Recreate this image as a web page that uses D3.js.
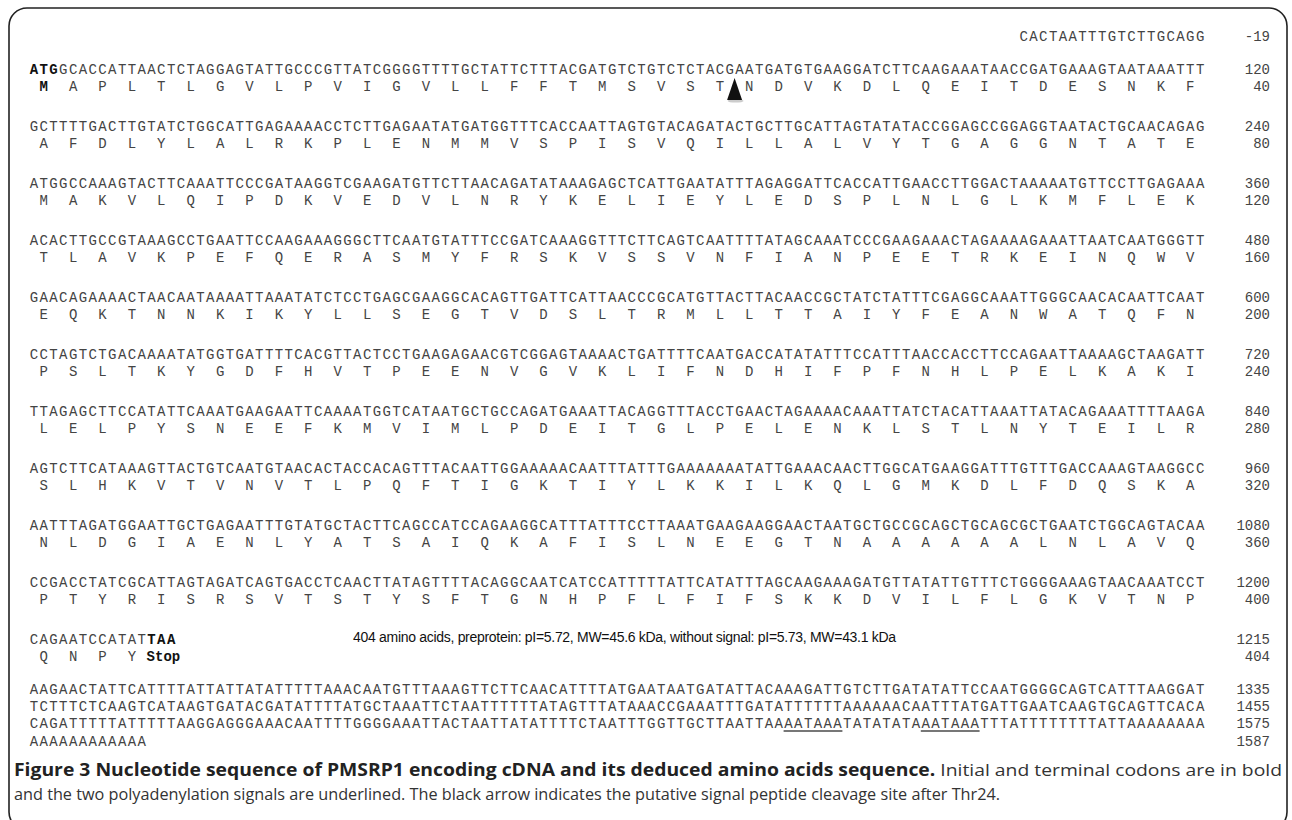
<!DOCTYPE html>
<html>
<head>
<meta charset="utf-8">
<script src="https://cdn.jsdelivr.net/npm/d3@7.9.0/dist/d3.min.js"></script>
<style>
  body { margin: 0; background: #fff; }
  svg { display: block; }
  .nt, .aa, .num { font-family: 'Liberation Mono', 'Courier New', monospace; font-size: 14px; fill: #444; }
  .bold { font-weight: bold; fill: #111; }
  .info { font-family: 'Liberation Sans', Arial, sans-serif; font-size: 14px; fill: #111; letter-spacing: -0.3px; }
  .cap { font-family: 'Open Sans', 'Noto Sans', sans-serif; font-size: 17px; fill: #333; }
</style>
</head>
<body>
<svg id="fig" width="1292" height="820"></svg>
<script>
// sequence data
const header = 'CACTAATTTGTCTTGCAGG';
const headerNum = '-19';

const ntRows = [
  'ATGGCACCATTAACTCTAGGAGTATTGCCCGTTATCGGGGTTTTGCTATTCTTTACGATGTCTGTCTCTACGAATGATGTGAAGGATCTTCAAGAAATAACCGATGAAAGTAATAAATTT',
  'GCTTTTGACTTGTATCTGGCATTGAGAAAACCTCTTGAGAATATGATGGTTTCACCAATTAGTGTACAGATACTGCTTGCATTAGTATATACCGGAGCCGGAGGTAATACTGCAACAGAG',
  'ATGGCCAAAGTACTTCAAATTCCCGATAAGGTCGAAGATGTTCTTAACAGATATAAAGAGCTCATTGAATATTTAGAGGATTCACCATTGAACCTTGGACTAAAAATGTTCCTTGAGAAA',
  'ACACTTGCCGTAAAGCCTGAATTCCAAGAAAGGGCTTCAATGTATTTCCGATCAAAGGTTTCTTCAGTCAATTTTATAGCAAATCCCGAAGAAACTAGAAAAGAAATTAATCAATGGGTT',
  'GAACAGAAAACTAACAATAAAATTAAATATCTCCTGAGCGAAGGCACAGTTGATTCATTAACCCGCATGTTACTTACAACCGCTATCTATTTCGAGGCAAATTGGGCAACACAATTCAAT',
  'CCTAGTCTGACAAAATATGGTGATTTTCACGTTACTCCTGAAGAGAACGTCGGAGTAAAACTGATTTTCAATGACCATATATTTCCATTTAACCACCTTCCAGAATTAAAAGCTAAGATT',
  'TTAGAGCTTCCATATTCAAATGAAGAATTCAAAATGGTCATAATGCTGCCAGATGAAATTACAGGTTTACCTGAACTAGAAAACAAATTATCTACATTAAATTATACAGAAATTTTAAGA',
  'AGTCTTCATAAAGTTACTGTCAATGTAACACTACCACAGTTTACAATTGGAAAAACAATTTATTTGAAAAAAATATTGAAACAACTTGGCATGAAGGATTTGTTTGACCAAAGTAAGGCC',
  'AATTTAGATGGAATTGCTGAGAATTTGTATGCTACTTCAGCCATCCAGAAGGCATTTATTTCCTTAAATGAAGAAGGAACTAATGCTGCCGCAGCTGCAGCGCTGAATCTGGCAGTACAA',
  'CCGACCTATCGCATTAGTAGATCAGTGACCTCAACTTATAGTTTTACAGGCAATCATCCATTTTTATTCATATTTAGCAAGAAAGATGTTATATTGTTTCTGGGGAAAGTAACAAATCCT',
  'CAGAATCCATATTAA'
];
const aaRows = [
  'MAPLTLGVLPVIGVLLFFTMSVSTNDVKDLQEITDESNKF',
  'AFDLYLALRKPLENMMVSPISVQILLALVYTGAGGNTATE',
  'MAKVLQIPDKVEDVLNRYKELIEYLEDSPLNLGLKMFLEK',
  'TLAVKPEFQERASMYFRSKVSSVNFIANPEETRKEINQWV',
  'EQKTNNKIKYLLSEGTVDSLTRMLLTTAIYFEANWATQFN',
  'PSLTKYGDFHVTPEENVGVKLIFNDHIFPFNHLPELKAKI',
  'LELPYSNEEFKMVIMLPDEITGLPELENKLSTLNYTEILR',
  'SLHKVTVNVTLPQFTIGKTIYLKKILKQLGMKDLFDQSKA',
  'NLDGIAENLYATSAIQKAFISLNEEGTNAAAAAALNLAVQ',
  'PTYRISRSVTSTYSFTGNHPFLFIFSKKDVILFLGKVTNP',
  'QNPY'
];
const stopLabel = 'Stop';
const ntEnds = [120, 240, 360, 480, 600, 720, 840, 960, 1080, 1200, 1215];
const aaEnds = [40, 80, 120, 160, 200, 240, 280, 320, 360, 400, 404];

const utrRows = [
  'AAGAACTATTCATTTTATTATTATATTTTTAAACAATGTTTAAAGTTCTTCAACATTTTATGAATAATGATATTACAAAGATTGTCTTGATATATTCCAATGGGGCAGTCATTTAAGGAT',
  'TCTTTCTCAAGTCATAAGTGATACGATATTTTATGCTAAATTCTAATTTTTTATAGTTTATAAACCGAAATTTGATATTTTTTAAAAAACAATTTATGATTGAATCAAGTGCAGTTCACA',
  'CAGATTTTTATTTTTAAGGAGGGAAACAATTTTGGGGAAATTACTAATTATATTTTCTAATTTGGTTGCTTAATTAAAATAAATATATATAAATAAATTTATTTTTTTTATTAAAAAAAA',
  'AAAAAAAAAAAA'
];
const utrEnds = [1335, 1455, 1575, 1587];

// bold start/stop codons: [row, first index]
const boldCodons = [[0, 0], [10, 12]];
// polyadenylation signals in utrRows[2]
const polyA = [77, 91];
const polyLen = 6;
// cleavage arrow after codon 24
const cleavageCodon = 24;

const infoText = '404 amino acids, preprotein: pI=5.72, MW=45.6 kDa, without signal: pI=5.73, MW=43.1 kDa';
const captionBold = 'Figure 3 Nucleotide sequence of PMSRP1 encoding cDNA and its deduced amino acids sequence.';
const captionRest = ' Initial and terminal codons are in bold';
const captionLine2 = 'and the two polyadenylation signals are underlined. The black arrow indicates the putative signal peptide cleavage site after Thr24.';

const svg = d3.select('#fig');

// frame
svg.append('rect')
  .attr('x', 9).attr('y', 8)
  .attr('width', 1278).attr('height', 822)
  .attr('rx', 18)
  .attr('fill', 'none')
  .attr('stroke', '#222')
  .attr('stroke-width', 1.6);

const x = d3.scaleLinear().domain([0, 120]).range([29, 29 + 120 * 9.8]);
const rowY = d3.scaleLinear().domain([0, 10]).range([74, 644]);
const aaGap = 17;
const numX = 1270;

function isBold(r, i) {
  return boldCodons.some(([br, bi]) => br === r && i >= bi && i < bi + 3);
}

function drawSeq(g, str, y, boldFn) {
  g.selectAll(null)
    .data(str.split(''))
    .join('text')
    .attr('class', (d, i) => (boldFn && boldFn(i) ? 'nt bold' : 'nt'))
    .attr('x', (d, i) => x(i + 0.5))
    .attr('y', y)
    .attr('text-anchor', 'middle')
    .text((d) => d);
}

// header (5' UTR) right-aligned to the row end
const gh = svg.append('g');
gh.selectAll('text')
  .data(header.split(''))
  .join('text')
  .attr('class', 'nt')
  .attr('x', (d, i) => x(120 - header.length + i + 0.5))
  .attr('y', 41)
  .attr('text-anchor', 'middle')
  .text((d) => d);
svg.append('text').attr('class', 'num').attr('x', numX).attr('y', 41)
  .attr('text-anchor', 'end').text(headerNum);

// coding rows
ntRows.forEach((row, r) => {
  const y = rowY(r);
  const g = svg.append('g');
  drawSeq(g, row, y, (i) => isBold(r, i));
  g.selectAll('text.aa')
    .data(aaRows[r].split(''))
    .join('text')
    .attr('class', (d, i) => (r === 0 && i === 0 ? 'aa bold' : 'aa'))
    .attr('x', (d, i) => x(i * 3 + 1.5))
    .attr('y', y + aaGap)
    .attr('text-anchor', 'middle')
    .text((d) => d);
  svg.append('text').attr('class', 'num').attr('x', numX).attr('y', y)
    .attr('text-anchor', 'end').text(ntEnds[r]);
  svg.append('text').attr('class', 'num').attr('x', numX).attr('y', y + aaGap)
    .attr('text-anchor', 'end').text(aaEnds[r]);
});

// stop label
const lastRow = ntRows.length - 1;
svg.append('text')
  .attr('class', 'aa bold')
  .attr('x', x(aaRows[lastRow].length * 3))
  .attr('y', rowY(lastRow) + aaGap)
  .text(stopLabel);

// info line
svg.append('text')
  .attr('class', 'info')
  .attr('x', 353)
  .attr('y', rowY(lastRow) - 2)
  .text(infoText);

// cleavage arrow
const ax = x(cleavageCodon * 3);
const ay = rowY(0) + 4;
svg.append('ellipse')
  .attr('cx', ax + 1).attr('cy', ay + 23)
  .attr('rx', 8).attr('ry', 1.6)
  .attr('fill', '#ccc');
svg.append('path')
  .attr('d', `M${ax},${ay} L${ax + 7.5},${ay + 22} L${ax - 7.5},${ay + 22} Z`)
  .attr('fill', '#111');

// 3' UTR
const utrY = [694, 711, 728, 746];
utrRows.forEach((row, r) => {
  const g = svg.append('g');
  drawSeq(g, row, utrY[r]);
  svg.append('text').attr('class', 'num').attr('x', numX).attr('y', utrY[r])
    .attr('text-anchor', 'end').text(utrEnds[r]);
});
svg.selectAll('line.polya')
  .data(polyA)
  .join('line')
  .attr('x1', (d) => x(d))
  .attr('x2', (d) => x(d + polyLen))
  .attr('y1', utrY[2] + 3)
  .attr('y2', utrY[2] + 3)
  .attr('stroke', '#777')
  .attr('stroke-width', 2);

// caption
const cap1 = svg.append('text')
  .attr('class', 'cap')
  .attr('x', 14).attr('y', 776)
  .attr('textLength', 1268)
  .attr('lengthAdjust', 'spacingAndGlyphs');
cap1.append('tspan').attr('font-weight', 'bold').attr('fill', '#222').text(captionBold);
cap1.append('tspan').text(captionRest);
svg.append('text')
  .attr('class', 'cap')
  .attr('x', 14).attr('y', 800)
  .attr('textLength', 986)
  .attr('lengthAdjust', 'spacingAndGlyphs')
  .text(captionLine2);
</script>
</body>
</html>
